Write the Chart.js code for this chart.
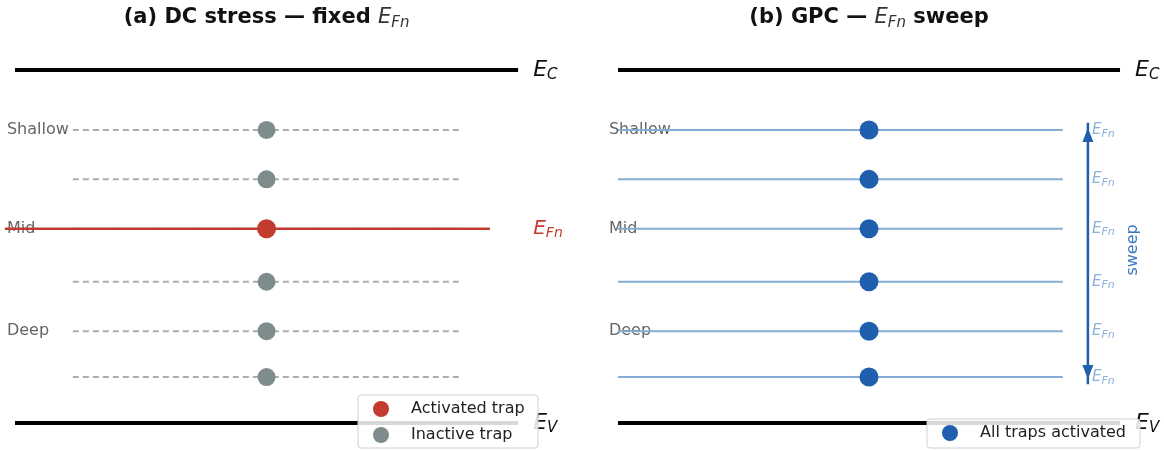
<!DOCTYPE html>
<html lang="en">
<head>
    <meta charset="UTF-8">
    <title>Trap activation: DC stress vs GPC</title>
    <style>
        body {
            margin: 0;
            background: #ffffff;
            display: flex;
            width: 1164px;
            height: 450px;
            overflow: hidden;
        }
        canvas { display: block; }
    </style>
</head>
<body>
    <canvas id="dcChart" width="582" height="450"></canvas>
    <canvas id="gpcChart" width="582" height="450"></canvas>
    <script src="https://cdn.jsdelivr.net/npm/chart.js"></script>
    <script>
        // band edges and trap levels (normalised energy, EV = 0, EC = 1)
        const bandEC = 1.0;
        const bandEV = 0.0;
        const trapLevels = [0.83, 0.69, 0.55, 0.40, 0.26, 0.13];
        const levelNames = ['Shallow', '', 'Mid', '', 'Deep', ''];
        const trapX = 0.5;
        const dcFermiLevel = 0.55;       // fixed EFn in DC stress
        const dcTrapSpan = [0.115, 0.89];
        const dcFermiSpan = [-0.02, 0.944];
        const gpcTrapSpan = [0.0, 0.886];
        const sweepX = 0.936;
        const labelX = 1.03;

        const FONT = "'DejaVu Sans', sans-serif";
        const RED = '#c33b2e';
        const GREY = '#7f8c8d';
        const BLUE = '#1f5fad';
        const LIGHTBLUE = '#86acd9';

        function hline(y, x0, x1, color, width, dash, order) {
            return {
                type: 'line',
                data: [{ x: x0, y: y }, { x: x1, y: y }],
                borderColor: color,
                borderWidth: width,
                borderDash: dash || [],
                pointRadius: 0,
                order: order
            };
        }

        // italic E with a subscript, like matplotlib mathtext
        function drawSub(ctx, x, y, sub, size, color, align) {
            ctx.save();
            ctx.fillStyle = color;
            ctx.textBaseline = 'middle';
            ctx.textAlign = 'left';
            const subSize = Math.round(size * 0.7);
            ctx.font = 'oblique ' + size + 'px ' + FONT;
            const wE = ctx.measureText('E').width;
            ctx.font = 'oblique ' + subSize + 'px ' + FONT;
            const wS = ctx.measureText(sub).width;
            let x0 = x;
            if (align === 'center') x0 = x - (wE + wS) / 2;
            ctx.font = 'oblique ' + size + 'px ' + FONT;
            ctx.fillText('E', x0, y);
            ctx.font = 'oblique ' + subSize + 'px ' + FONT;
            ctx.fillText(sub, x0 + wE, y + size * 0.25);
            ctx.restore();
            return wE + wS;
        }

        function drawTitle(ctx, cx, y, parts) {
            const size = 21;
            ctx.save();
            ctx.textBaseline = 'middle';
            let total = 0;
            parts.forEach(p => {
                if (p.sub) {
                    ctx.font = 'oblique ' + size + 'px ' + FONT;
                    let w = ctx.measureText('E').width;
                    ctx.font = 'oblique ' + Math.round(size * 0.7) + 'px ' + FONT;
                    w += ctx.measureText(p.sub).width;
                    p.w = w;
                } else {
                    ctx.font = 'bold ' + size + 'px ' + FONT;
                    p.w = ctx.measureText(p.text).width;
                }
                total += p.w;
            });
            let x = cx - total / 2;
            parts.forEach(p => {
                if (p.sub) {
                    drawSub(ctx, x, y, p.sub, size, '#333', 'left');
                } else {
                    ctx.font = 'bold ' + size + 'px ' + FONT;
                    ctx.fillStyle = '#111';
                    ctx.textAlign = 'left';
                    ctx.fillText(p.text, x, y);
                }
                x += p.w;
            });
            ctx.restore();
        }

        function drawLegend(ctx, box, items) {
            ctx.save();
            ctx.fillStyle = 'rgba(255,255,255,0.85)';
            ctx.strokeStyle = '#d0d0d0';
            ctx.lineWidth = 1;
            ctx.beginPath();
            ctx.roundRect(box.x, box.y, box.w, box.h, 3);
            ctx.fill();
            ctx.stroke();
            ctx.font = '16px ' + FONT;
            ctx.textBaseline = 'middle';
            items.forEach((it, i) => {
                const cy = box.y + 14 + i * 26;
                ctx.fillStyle = it.color;
                ctx.beginPath();
                ctx.arc(box.x + 23, cy, 8, 0, Math.PI * 2);
                ctx.fill();
                ctx.fillStyle = '#222';
                ctx.fillText(it.label, box.x + 53, cy);
            });
            ctx.restore();
        }

        // level names go under the lines
        const namesPlugin = {
            id: 'names',
            beforeDatasetsDraw(chart) {
                const { ctx, scales: { x, y } } = chart;
                ctx.save();
                ctx.font = '16px ' + FONT;
                ctx.fillStyle = '#666';
                ctx.textBaseline = 'middle';
                trapLevels.forEach((lv, i) => {
                    if (levelNames[i]) {
                        ctx.fillText(levelNames[i], x.getPixelForValue(chart.options.nameX), y.getPixelForValue(lv));
                    }
                });
                ctx.restore();
            }
        };

        const annotPlugin = {
            id: 'annot',
            afterDatasetsDraw(chart) {
                const { ctx, scales: { x, y } } = chart;
                const o = chart.options;
                drawTitle(ctx, x.getPixelForValue(trapX), 18, o.titleParts);
                drawSub(ctx, x.getPixelForValue(labelX), y.getPixelForValue(bandEC), 'C', 22, '#111', 'left');
                drawSub(ctx, x.getPixelForValue(labelX), y.getPixelForValue(bandEV), 'V', 22, '#111', 'left');
                if (o.panel === 'dc') {
                    drawSub(ctx, x.getPixelForValue(labelX), y.getPixelForValue(dcFermiLevel), 'Fn', 20, RED, 'left');
                } else {
                    const ax = x.getPixelForValue(sweepX);
                    const yt = y.getPixelForValue(trapLevels[0]);
                    const yb = y.getPixelForValue(trapLevels[trapLevels.length - 1]);
                    ctx.save();
                    ctx.fillStyle = BLUE;
                    ctx.beginPath();
                    ctx.moveTo(ax, yt - 2); ctx.lineTo(ax - 5.5, yt + 12); ctx.lineTo(ax + 5.5, yt + 12);
                    ctx.closePath(); ctx.fill();
                    ctx.beginPath();
                    ctx.moveTo(ax, yb + 2); ctx.lineTo(ax - 5.5, yb - 12); ctx.lineTo(ax + 5.5, yb - 12);
                    ctx.closePath(); ctx.fill();
                    ctx.restore();
                    trapLevels.forEach(lv => {
                        ctx.save();
                        ctx.globalAlpha = 0.7;
                        drawSub(ctx, x.getPixelForValue(sweepX + 0.008), y.getPixelForValue(lv), 'Fn', 15, '#5b8fd0', 'left');
                        ctx.restore();
                    });
                    ctx.save();
                    ctx.translate(x.getPixelForValue(1.025), y.getPixelForValue(0.49));
                    ctx.rotate(-Math.PI / 2);
                    ctx.font = '16px ' + FONT;
                    ctx.fillStyle = '#3a78c2';
                    ctx.textAlign = 'center';
                    ctx.textBaseline = 'middle';
                    ctx.fillText('sweep', 0, 0);
                    ctx.restore();
                }
                drawLegend(ctx, o.legendBox, o.legendItems);
            }
        };

        function baseOptions(xmin, xmax) {
            return {
                responsive: false,
                animation: false,
                layout: { padding: 0, autoPadding: false },
                plugins: { legend: { display: false }, tooltip: { enabled: false } },
                scales: {
                    x: { type: 'linear', min: xmin, max: xmax, display: false },
                    y: { type: 'linear', min: -0.0765, max: 1.198, display: false }
                }
            };
        }

        // (a) DC stress
        const dcDatasets = [
            hline(bandEC, 0, 1, '#000', 4, null, 3),
            hline(bandEV, 0, 1, '#000', 4, null, 3)
        ];
        trapLevels.forEach(lv => dcDatasets.push(hline(lv, dcTrapSpan[0], dcTrapSpan[1], '#a6aeaf', 2, [6, 4], 2)));
        dcDatasets.push(hline(dcFermiLevel, dcFermiSpan[0], dcFermiSpan[1], RED, 2.5, null, 1));
        dcDatasets.push({
            type: 'scatter',
            data: trapLevels.filter(lv => lv !== dcFermiLevel).map(lv => ({ x: trapX, y: lv })),
            pointRadius: 9, pointBackgroundColor: GREY, pointBorderWidth: 0, order: 0
        });
        dcDatasets.push({
            type: 'scatter',
            data: [{ x: trapX, y: dcFermiLevel }],
            pointRadius: 9.5, pointBackgroundColor: RED, pointBorderWidth: 0, order: 0
        });

        const dcOptions = baseOptions(-0.0298, 1.127);
        Object.assign(dcOptions, {
            panel: 'dc',
            nameX: -0.016,
            titleParts: [{ text: '(a) DC stress \u2014 fixed ' }, { sub: 'Fn' }],
            legendBox: { x: 358, y: 395, w: 180, h: 53 },
            legendItems: [{ color: RED, label: 'Activated trap' }, { color: GREY, label: 'Inactive trap' }]
        });

        new Chart(document.getElementById('dcChart'), {
            type: 'line',
            data: { datasets: dcDatasets },
            options: dcOptions,
            plugins: [namesPlugin, annotPlugin]
        });

        // (b) GPC sweep
        const gpcDatasets = [
            hline(bandEC, 0, 1, '#000', 4, null, 3),
            hline(bandEV, 0, 1, '#000', 4, null, 3)
        ];
        trapLevels.forEach(lv => gpcDatasets.push(hline(lv, gpcTrapSpan[0], gpcTrapSpan[1], LIGHTBLUE, 2, null, 2)));
        gpcDatasets.push({
            type: 'line',
            data: [{ x: sweepX, y: trapLevels[0] + 0.02 }, { x: sweepX, y: trapLevels[trapLevels.length - 1] - 0.02 }],
            borderColor: BLUE, borderWidth: 2.5, pointRadius: 0, order: 1
        });
        gpcDatasets.push({
            type: 'scatter',
            data: trapLevels.map(lv => ({ x: trapX, y: lv })),
            pointRadius: 9.5, pointBackgroundColor: BLUE, pointBorderWidth: 0, order: 0
        });

        const gpcOptions = baseOptions(-0.0717, 1.0876);
        Object.assign(gpcOptions, {
            panel: 'gpc',
            nameX: -0.018,
            titleParts: [{ text: '(b) GPC \u2014 ' }, { sub: 'Fn' }, { text: ' sweep' }],
            legendBox: { x: 345, y: 419, w: 213, h: 29 },
            legendItems: [{ color: BLUE, label: 'All traps activated' }]
        });

        new Chart(document.getElementById('gpcChart'), {
            type: 'line',
            data: { datasets: gpcDatasets },
            options: gpcOptions,
            plugins: [namesPlugin, annotPlugin]
        });
    </script>
</body>
</html>
